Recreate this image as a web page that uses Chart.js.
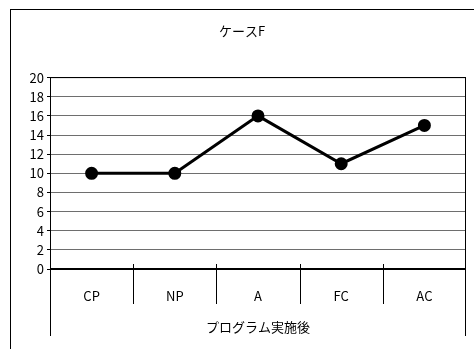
<!DOCTYPE html>
<html>
<head>
<meta charset="utf-8">
<script src="https://cdn.jsdelivr.net/npm/chart.js@4/dist/chart.umd.min.js"></script>
<style>
  html, body { margin: 0; padding: 0; background: #fff; }
  #wrap { width: 474px; height: 349px; }
</style>
</head>
<body>
<div id="wrap"><canvas id="myChart" width="474" height="349"></canvas></div>
<script>
const categories = ["CP", "NP", "A", "FC", "AC"];
const values = [10, 10, 16, 11, 15];
const yTicks = [0, 2, 4, 6, 8, 10, 12, 14, 16, 18, 20];

const FONT = "'Noto Sans CJK JP', 'DejaVu Sans', sans-serif";

// outer frame, plot border, category separators
const framePlugin = {
  id: "frame",
  beforeDraw: (chart) => {
    const ctx = chart.ctx;
    ctx.save();
    ctx.fillStyle = "#fff";
    ctx.fillRect(0, 0, chart.width, chart.height);
    ctx.strokeStyle = "#000";
    ctx.lineWidth = 1;
    ctx.strokeRect(10.5, 9.5, chart.width + 20, chart.height + 20);
    ctx.restore();
  },
  afterDraw: (chart) => {
    const ctx = chart.ctx;
    const area = chart.chartArea;
    const x = chart.scales.x;
    const low = area.bottom + 67;
    ctx.save();
    ctx.strokeStyle = "#000";
    ctx.lineWidth = 1;
    ctx.beginPath();
    ctx.moveTo(Math.round(area.left) + 0.5, low);
    ctx.lineTo(Math.round(area.left) + 0.5, area.top);
    ctx.lineTo(Math.round(area.right) - 0.5, area.top);
    ctx.lineTo(Math.round(area.right) - 0.5, low);
    ctx.stroke();
    ctx.lineWidth = 2;
    ctx.beginPath();
    ctx.moveTo(area.left, Math.round(area.bottom));
    ctx.lineTo(area.right, Math.round(area.bottom));
    ctx.stroke();
    ctx.lineWidth = 1;
    for (let i = 0; i < categories.length - 1; i++) {
      const px = Math.round((x.getPixelForValue(i) + x.getPixelForValue(i + 1)) / 2) + 0.5;
      ctx.beginPath();
      ctx.moveTo(px, area.bottom - 5);
      ctx.lineTo(px, area.bottom + 35);
      ctx.stroke();
    }
    ctx.restore();
  },
};

const chartData = () => {
  const ctx = document.getElementById("myChart").getContext("2d");
  new Chart(ctx, {
    type: "line",
    data: {
      labels: categories,
      datasets: [
        {
          label: "ケースF",
          data: values,
          borderColor: "#000",
          backgroundColor: "#000",
          borderWidth: 3,
          pointRadius: 5,
          pointBackgroundColor: "#000",
          pointBorderColor: "#000",
          tension: 0,
        },
      ],
    },
    options: {
      responsive: false,
      animation: false,
      devicePixelRatio: 1,
      layout: { padding: { left: 10, right: 0, top: 0, bottom: 0 } },
      plugins: {
        legend: { display: false },
        tooltip: { enabled: false },
        title: {
          display: true,
          text: "ケースF",
          color: "#000",
          font: { family: FONT, size: 13, weight: "normal" },
          padding: { top: 23, bottom: 39 },
        },
      },
      scales: {
        x: {
          type: "category",
          offset: true,
          border: { display: false },
          grid: { display: false },
          ticks: {
            color: "#000",
            padding: 11,
            font: { family: FONT, size: 13 },
          },
          title: {
            display: true,
            text: "プログラム実施後",
            color: "#000",
            font: { family: FONT, size: 13 },
            padding: { top: 10, bottom: 14 },
          },
          afterFit: (scale) => {
            scale.height = 80;
          },
        },
        y: {
          min: 0,
          max: 20,
          afterBuildTicks: (scale) => {
            scale.ticks = yTicks.map((v) => ({ value: v }));
          },
          border: { display: false },
          grid: {
            color: (c) => (c.tick.value === 20 ? "#000" : "#6e6e6e"),
            lineWidth: 1,
            tickLength: 3,
            tickColor: "#000",
          },
          ticks: {
            color: "#000",
            padding: 3,
            font: { family: FONT, size: 13 },
          },
          afterFit: (scale) => {
            scale.width = 40;
          },
        },
      },
    },
    plugins: [framePlugin],
  });
};

window.onload = chartData();
</script>
</body>
</html>
